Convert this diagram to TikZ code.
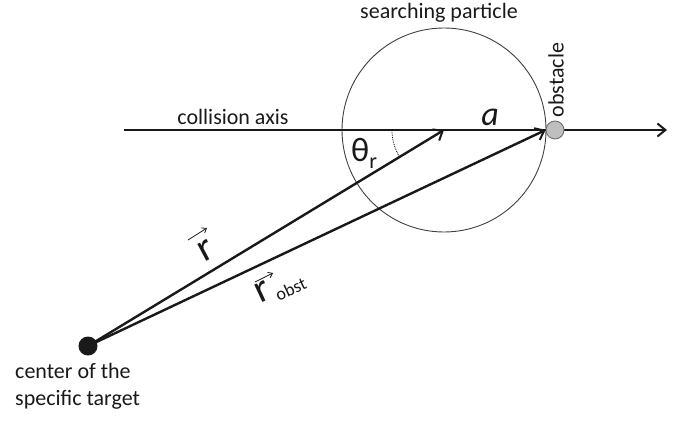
\documentclass[tikz,border=0pt]{standalone}
\usepackage{fontspec}
\setmainfont{Carlito}
\usetikzlibrary{arrows.meta}

\begin{document}
\begin{tikzpicture}[x=1pt,y=1pt,
        vecline/.style={line width=2.4pt, color=black!90, -{Straight Barb[length=8pt,width=13pt,line width=2pt]}},
        vecmark/.style={line width=0.8pt, color=black!90, -{Straight Barb[length=4pt,width=6pt]}},
        lbl/.style={inner sep=0pt, text=black!90, font=\fontsize{22}{27}\selectfont},
        biglbl/.style={inner sep=0pt, text=black!90, font=\fontsize{34}{34}\selectfont}]
        \useasboundingbox (0,0) rectangle (682,423);
        % points
            \coordinate (center) at (444,293);
            \coordinate (axisstart) at (124,293);
            \coordinate (axisend) at (667,293);
        %circle
            \draw[color=black!75, line width=0.9pt] (center) circle (102);
            \node[lbl] (particle) at (439,410) {searching particle};
        % collision axis
            \draw [vecline] (axisstart) -- (axisend);
            \node[lbl] (axislabel) at (233,306) {collision axis};
            \node[biglbl] (alabel) at (490,306) {\itshape a};
        % obstacle
            \node[circle, draw=black!60, fill=black!25, line width=0.8pt, minimum size=18pt, inner sep=0pt] (obstacle) at (555,293) {};
            \node[lbl, rotate=90] (obstlabel) at (556,343) {obstacle};
        % target
            \node[circle, fill=black!90, minimum size=19pt, inner sep=0pt] (target) at (88,77) {};
            \node[lbl, align=left, anchor=north west] (targetlabel) at (15,60) {center of the\\specific target};
        % vectors
            \draw [vecline] (target.center) -- (center);
            \draw [vecline] (target.center) -- (obstacle.west);
            \node[inner sep=0pt, text=black!90, rotate=28, font=\fontsize{40}{40}\selectfont] (rlabel) at (206,172) {r};
            \draw [vecmark] ([shift={(-18,11)}]rlabel.center) -- ([shift={(1,23)}]rlabel.center);
            \node[inner sep=0pt, text=black!90, rotate=25, anchor=base west, font=\fontsize{40}{40}\selectfont] (robstlabel) at (260,119) {r\kern4pt\raisebox{-6pt}{\fontsize{18}{18}\selectfont obst}};
            \coordinate (robstr) at (266,129);
            \draw [vecmark] ([shift={(-11,12)}]robstr) -- ([shift={(7,21)}]robstr);
        % angle
            \draw [densely dotted, line width=0.8pt] ([shift={(180:52)}]center) arc (180:211:52);
            \node[biglbl, anchor=base west] (theta) at (351,261) {θ\raisebox{-7pt}{\fontsize{22}{22}\selectfont r}};
    \end{tikzpicture}
\end{document}
